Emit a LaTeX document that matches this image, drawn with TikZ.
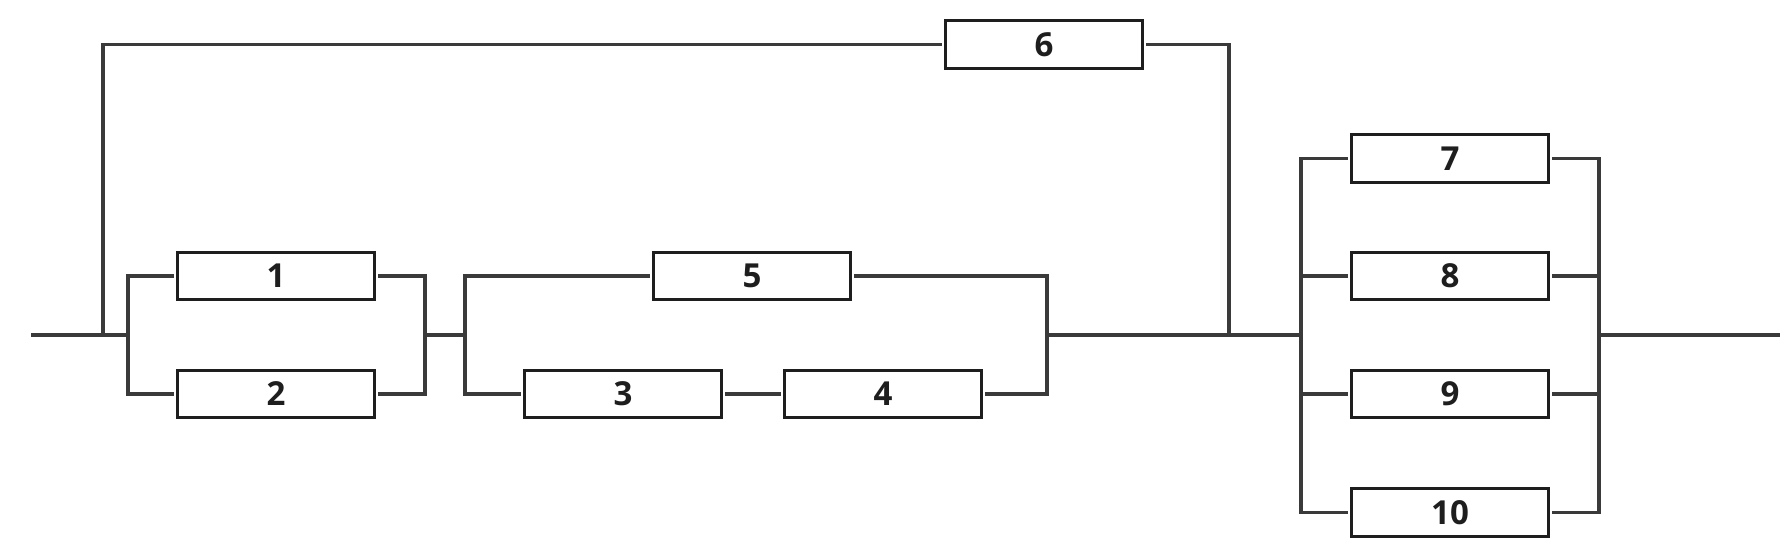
\documentclass[tikz,border=0pt]{standalone}
\usepackage{fontspec}
\setmainfont{Open Sans}
\definecolor{wirecol}{HTML}{3A3A3A}
\definecolor{edgecol}{HTML}{1E1E1E}
\tikzset{
    blk/.style={draw=edgecol,line width=0.95pt,minimum width=1.97cm,minimum height=0.475cm,
        inner sep=0pt,outer sep=1pt,text=edgecol,font=\bfseries\fontsize{9.4}{9}\selectfont},
    wire/.style={draw=wirecol,line width=0.9pt},
}
\begin{document}
\begin{tikzpicture}[x=0.01cm,y=-0.01cm]
    \useasboundingbox (0,0) rectangle (1788,551);
    %\draw[help lines,step=100] (0,0) grid (1788,551);
    % blocks
    \node[blk] (b1) at(276,276) {1};
    \node[blk] (b2) at(276,394) {2};
    \node[blk] (b5) at(752,276) {5};
    \node[blk] (b3) at(623,394) {3};
    \node[blk] (b4) at(883,394) {4};
    \node[blk] (b6) at(1044,44.5) {6};
    \node[blk] (b7) at(1450,158.5) {7};
    \node[blk] (b8) at(1450,276) {8};
    \node[blk] (b9) at(1450,394) {9};
    \node[blk] (b10) at(1450,512.5) {10};
    % junctions
    \coordinate (in) at(31,335);
    \coordinate (jA) at(103,335);
    \coordinate (aL) at(128,335);
    \coordinate (aR) at(425,335);
    \coordinate (bL) at(465,335);
    \coordinate (bR) at(1047,335);
    \coordinate (jB) at(1229,335);
    \coordinate (cL) at(1301,335);
    \coordinate (cR) at(1599,335);
    \coordinate (out) at(1780,335);
    % wires
    \draw[wire] (in) -- (aL);
    \draw[wire] (jA) |- (b6.west);
    \draw[wire] (b6.east) -| (jB);
    \draw[wire] (b1.west) -| (aL) |- (b2.west);
    \draw[wire] (b1.east) -| (aR) |- (b2.east);
    \draw[wire] (aR) -- (bL);
    \draw[wire] (b5.west) -| (bL) |- (b3.west);
    \draw[wire] (b3) -- (b4);
    \draw[wire] (b5.east) -| (bR) |- (b4.east);
    \draw[wire] (bR) -- (cL);
    \draw[wire] (b7.west) -| (cL) |- (b10.west);
    \draw[wire] (b8.west) -- (b8.west -| cL);
    \draw[wire] (b9.west) -- (b9.west -| cL);
    \draw[wire] (b7.east) -| (cR) |- (b10.east);
    \draw[wire] (b8.east) -- (b8.east -| cR);
    \draw[wire] (b9.east) -- (b9.east -| cR);
    \draw[wire] (cR) -- (out);
\end{tikzpicture}
\end{document}
